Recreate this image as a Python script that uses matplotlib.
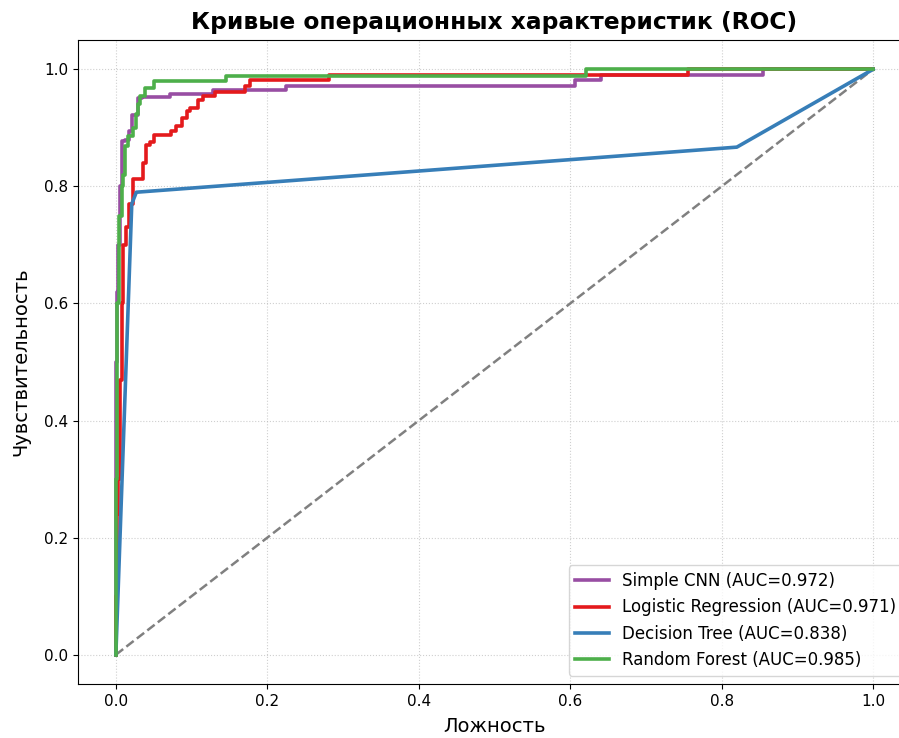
import matplotlib
matplotlib.use('Agg')
import matplotlib.pyplot as plt

# ROC data (fpr = start of each plateau, tpr = level)
cnn_fpr = [0, 0, 0.002, 0.003, 0.005, 0.0075, 0.012, 0.018, 0.021, 0.029, 0.034, 0.071, 0.128, 0.225, 0.606, 0.64, 0.854, 1.0]
cnn_tpr = [0, 0.50, 0.62, 0.70, 0.80, 0.877, 0.88, 0.894, 0.922, 0.951, 0.952, 0.957, 0.965, 0.972, 0.982, 0.99, 1.0, 1.0]

lr_fpr = [0, 0, 0.002, 0.003, 0.005, 0.006, 0.008, 0.010, 0.013, 0.018, 0.022, 0.036, 0.040, 0.045, 0.050,
          0.073, 0.080, 0.087, 0.094, 0.098, 0.109, 0.115, 0.131, 0.170, 0.177, 0.282, 0.755, 1.0]
lr_tpr = [0, 0.10, 0.24, 0.30, 0.38, 0.47, 0.60, 0.70, 0.73, 0.77, 0.812, 0.84, 0.87, 0.875, 0.887,
          0.894, 0.903, 0.917, 0.928, 0.934, 0.947, 0.954, 0.962, 0.971, 0.981, 0.99, 1.0, 1.0]

dt_fpr = [0, 0.021, 0.027, 0.82, 1.0]
dt_tpr = [0, 0.77, 0.79, 0.867, 1.0]

rf_fpr = [0, 0, 0.002, 0.004, 0.008, 0.010, 0.012, 0.016, 0.023, 0.026, 0.029, 0.032, 0.038, 0.051, 0.146, 0.621, 1.0]
rf_tpr = [0, 0.30, 0.60, 0.75, 0.80, 0.82, 0.869, 0.886, 0.90, 0.923, 0.94, 0.954, 0.968, 0.980, 0.989, 1.0, 1.0]

labels = ['Simple CNN (AUC=0.972)', 'Logistic Regression (AUC=0.971)',
          'Decision Tree (AUC=0.838)', 'Random Forest (AUC=0.985)']
colors = ['#984ea3', '#e41a1c', '#377eb8', '#4daf4a']

fig = plt.figure(figsize=(8.99, 7.38), dpi=100)
ax = fig.add_axes([78/899, 54/738, 833/899, 644/738])

ax.plot([0, 1], [0, 1], '--', color='gray', lw=1.8)
ax.plot(cnn_fpr, cnn_tpr, drawstyle='steps-post', color=colors[0], lw=2.6, label=labels[0])
ax.plot(lr_fpr, lr_tpr, drawstyle='steps-post', color=colors[1], lw=2.6, label=labels[1])
ax.plot(dt_fpr, dt_tpr, color=colors[2], lw=2.6, label=labels[2])
ax.plot(rf_fpr, rf_tpr, drawstyle='steps-post', color=colors[3], lw=2.6, label=labels[3])

ax.set_title('Кривые операционных характеристик (ROC)', fontsize=16.8, fontweight='bold', pad=8)
ax.set_xlabel('Ложность', fontsize=14, labelpad=6)
ax.set_ylabel('Чувствительность', fontsize=14, labelpad=10)
ax.tick_params(labelsize=11)
ax.grid(True, linestyle=':', alpha=0.6)
ax.legend(loc='lower right', fontsize=12)

fig.savefig('out.png', dpi=100)
